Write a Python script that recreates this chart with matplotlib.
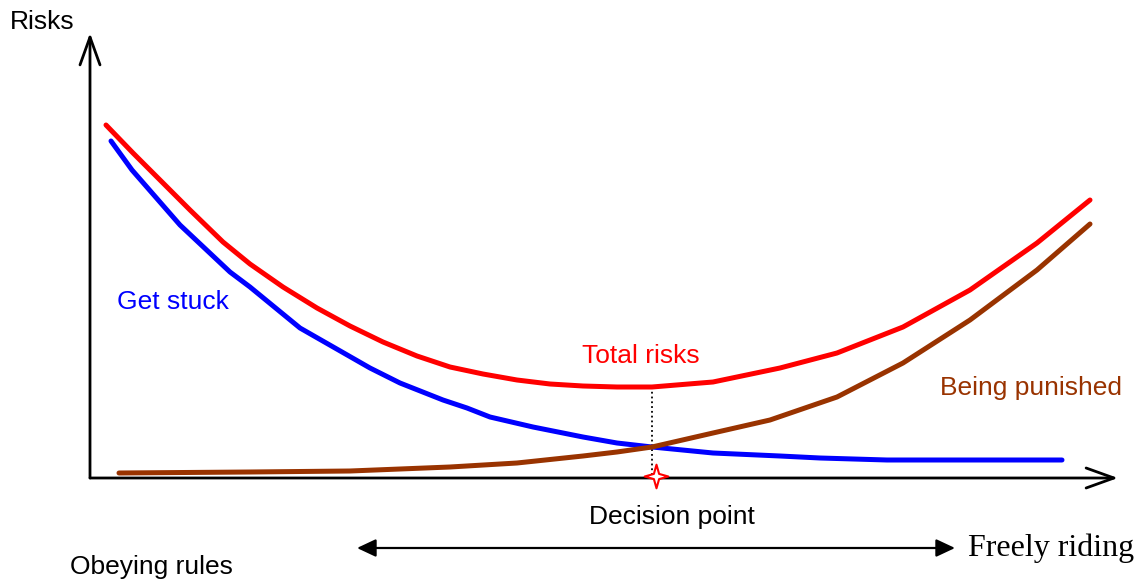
import numpy as np
import matplotlib
matplotlib.use("Agg")
import matplotlib.pyplot as plt
from matplotlib.path import Path

# Curves (x = freedom, y = risk)
total_x = [16, 43, 67, 100, 133, 160, 193, 227, 260, 293, 327, 360, 393, 427, 460, 493, 527, 562,
           623, 690, 747, 813, 880, 947, 1000]
total_y = [353, 325, 301, 268, 236, 214, 191, 170, 152, 136, 122, 111, 104, 98, 94, 92, 91, 91,
           96, 110, 125, 151, 188, 235, 278]

stuck_x = [21, 42, 90, 140, 160, 210, 280, 310, 353, 377, 400, 443, 493, 527, 562, 623, 690, 730, 797, 972]
stuck_y = [337, 308, 253, 206, 191, 150, 110, 95, 78, 70, 61, 51, 41, 35, 31, 25, 22, 20, 18, 18]

punish_x = [29, 160, 260, 360, 427, 493, 527, 562, 623, 680, 747, 813, 880, 947, 1000]
punish_y = [5, 6, 7, 11, 15, 22, 26, 31, 45, 58, 81, 115, 158, 208, 254]

decision_x = 562
star_x = 566
total_min = 91

sans = "Liberation Sans"
serif = "Liberation Serif"

fig = plt.figure(figsize=(11.39, 5.81), dpi=100)
ax = fig.add_axes([0, 0, 1, 1])
ax.set_xlim(-90, 1049)
ax.set_ylim(-103, 478)
ax.axis("off")

# axes with open arrow heads
ax.annotate("", xy=(0, 445), xytext=(0, 0),
            arrowprops=dict(arrowstyle="->,head_length=2.0,head_width=0.72", lw=2.0,
                            color="black", shrinkA=0, shrinkB=0, mutation_scale=10))
ax.annotate("", xy=(1028, 0), xytext=(0, 0),
            arrowprops=dict(arrowstyle="->,head_length=2.0,head_width=0.72", lw=2.0,
                            color="black", shrinkA=0, shrinkB=0, mutation_scale=10))

ax.plot(total_x, total_y, color="#ff0000", lw=3.6, solid_capstyle="round", solid_joinstyle="round", zorder=3)
ax.plot(stuck_x, stuck_y, color="#0000ff", lw=3.6, solid_capstyle="round", solid_joinstyle="round", zorder=3)
ax.plot(punish_x, punish_y, color="#993300", lw=3.6, solid_capstyle="round", solid_joinstyle="round", zorder=3)

# decision point
ax.plot([decision_x, decision_x], [total_min, 2], color="black", ls=":", lw=1.3, zorder=2)
star = Path([(0, 1), (0.22, 0.22), (1, 0), (0.22, -0.22), (0, -1), (-0.22, -0.22), (-1, 0), (-0.22, 0.22), (0, 1)],
            [Path.MOVETO] + [Path.LINETO] * 7 + [Path.CLOSEPOLY])
ax.plot([star_x], [2], marker=star, markersize=17, markerfacecolor="white",
        markeredgecolor="#ff0000", markeredgewidth=1.5, zorder=5)

# bottom double arrow
ax.annotate("", xy=(267, -70), xytext=(865, -70),
            arrowprops=dict(arrowstyle="<|-|>,head_length=1.15,head_width=0.54", lw=1.6,
                            color="black", shrinkA=0, shrinkB=0, mutation_scale=10))

ax.text(-80, 456, "Risks", fontsize=19, family=sans, va="center", ha="left")
ax.text(27, 176, "Get stuck", fontsize=19, family=sans, color="#0000ff", va="center", ha="left")
ax.text(492, 122, "Total risks", fontsize=19, family=sans, color="#ff0000", va="center", ha="left")
ax.text(850, 90, "Being punished", fontsize=19, family=sans, color="#993300", va="center", ha="left")
ax.text(582, -39, "Decision point", fontsize=19, family=sans, va="center", ha="center")
ax.text(-20, -89, "Obeying rules", fontsize=19, family=sans, va="center", ha="left")
ax.text(878, -70, "Freely riding", fontsize=23, family=serif, va="center", ha="left")

fig.savefig("out.png", dpi=100, facecolor="white")
